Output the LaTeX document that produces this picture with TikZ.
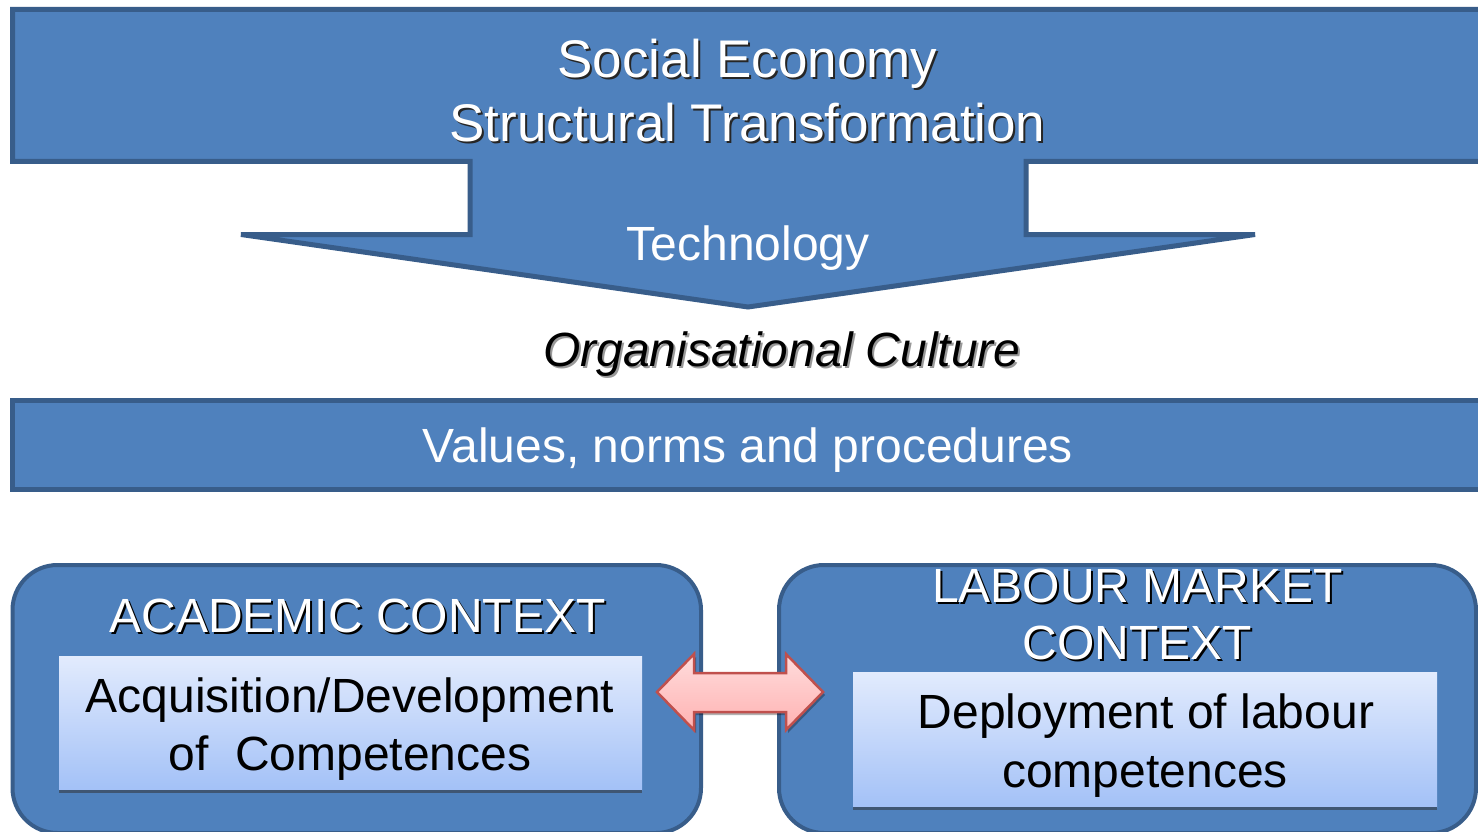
\documentclass[tikz,border=0pt]{standalone}
\usepackage{fontspec}
\setmainfont{Liberation Sans}
\definecolor{boxfill}{HTML}{4F81BD}
\definecolor{boxline}{HTML}{385D8A}
\definecolor{innertop}{HTML}{E2EBFD}
\definecolor{innerbot}{HTML}{A3C1F7}
\definecolor{pinktop}{HTML}{FFDCDC}
\definecolor{pinkbot}{HTML}{FFB2B2}
\definecolor{pinkline}{HTML}{C0504D}
\definecolor{undershade}{HTML}{3F5673}
\newcommand\shtext[2]{\leavevmode\rlap{\kern2pt\raisebox{-2pt}{\color{#1}#2}}#2}
\begin{document}
\begin{tikzpicture}[x=1pt,y=-1pt,
  bluebox/.style={fill=boxfill,draw=boxline,line width=5pt,line join=miter},
  roundbox/.style={fill=boxfill,draw=boxline,line width=4pt,rounded corners=45pt},
  innerbox/.style={draw=none,top color=innertop,bottom color=innerbot,inner sep=0pt,anchor=north west},
  underline/.style={draw=undershade,line width=3pt},
  lbl/.style={inner sep=0pt,anchor=base,font=\fontsize{48}{57}\selectfont},
  whitelbl/.style={lbl,text=white},
  blacklbl/.style={lbl,text=black},
  titlelbl/.style={whitelbl,font=\fontsize{53}{64}\selectfont}]
\useasboundingbox (0,0) rectangle (1478,832);
\fill[white] (0,0) rectangle (1478,832);
\clip (0,0) rectangle (1478,832);

% top block with downward arrow
\draw[bluebox] (12.5,9.5) -- (1500,9.5) -- (1500,161.5) -- (1026,161.5) -- (1026,234.5)
  -- (1255,234.5) -- (748,307) -- (241,234.5) -- (470,234.5) -- (470,161.5) -- (12.5,161.5) -- cycle;
\node[titlelbl] (t1) at (747.5,78) {\shtext{black!85}{Social Economy}};
\node[titlelbl] (t2) at (747.5,142) {\shtext{black!85}{Structural Transformation}};
\node[whitelbl] (tech) at (748,260) {Technology};

% organisational culture
\node[blacklbl,font=\fontsize{48}{57}\selectfont\itshape] (org) at (782,366) {\shtext{black!40}{Organisational Culture}};

% values bar
\draw[bluebox] (12.5,400) rectangle (1500,489.5);
\node[whitelbl] (vals) at (748,462) {Values, norms and procedures};

% academic context
\draw[roundbox] (12.5,565) rectangle (701,833);
\node[whitelbl] (acad) at (357.5,632) {\shtext{black}{ACADEMIC CONTEXT}};
\node[innerbox,minimum width=583pt,minimum height=134pt] (acqbox) at (59,656) {};
\draw[underline] ([yshift=-1.5pt]acqbox.south west) -- ([yshift=-1.5pt]acqbox.south east);
\node[blacklbl] (acq1) at (350,712) {Acquisition/Development};
\node[blacklbl] (acq2) at (350,770) {of\ \ Competences};

% labour market context
\draw[roundbox] (779,565) rectangle (1476,833);
\node[whitelbl] (lab1) at (1137.5,602) {\shtext{black}{LABOUR MARKET}};
\node[whitelbl] (lab2) at (1137,659) {\shtext{black}{CONTEXT}};
\node[innerbox,minimum width=584pt,minimum height=135pt] (depbox) at (853,672) {};
\draw[underline] ([yshift=-1.5pt]depbox.south west) -- ([yshift=-1.5pt]depbox.south east);
\node[blacklbl] (dep1) at (1146,728) {Deployment of labour};
\node[blacklbl] (dep2) at (1145,787) {competences};

% double arrow between contexts
\fill[black,opacity=0.3] (659,695) -- (696,657) -- (696,676) -- (788,676) -- (788,657) -- (825,695)
  -- (788,733) -- (788,715) -- (696,715) -- (696,733) -- cycle;
\draw[pinkline,line width=2.5pt,line join=miter,top color=pinktop,bottom color=pinkbot]
  (657,692) -- (694,654) -- (694,673) -- (786,673) -- (786,654) -- (823,692)
  -- (786,730) -- (786,712) -- (694,712) -- (694,730) -- cycle;
\end{tikzpicture}
\end{document}
